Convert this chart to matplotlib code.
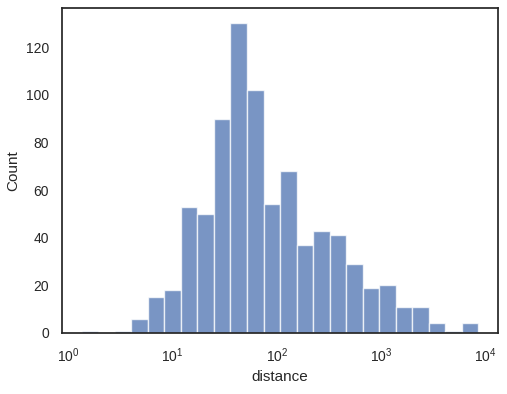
import numpy as np
import matplotlib.pyplot as plt
import seaborn as sns

# planets distance histogram, log-spaced bins
counts = [1, 0, 1, 6, 15, 18, 53, 50, 90, 130, 102, 54,
          68, 37, 43, 41, 29, 19, 20, 11, 11, 4, 1, 4]
dist_min = 1.35
dist_max = 8500.0

sns.set_theme(style="white")
plt.rcParams["font.family"] = ["Liberation Sans", "DejaVu Sans"]

edges = np.logspace(np.log10(dist_min), np.log10(dist_max), len(counts) + 1)

fig = plt.figure(figsize=(5.07, 3.94), dpi=100)
ax = fig.add_axes([62 / 507, 61 / 394, 436 / 507, 325 / 394])
ax.bar(edges[:-1], counts, width=np.diff(edges), align="edge",
       color="#4c72b0", alpha=0.75, edgecolor="white", linewidth=1)
ax.set_xscale("log")
ax.set_xlim(10 ** -0.06, 10 ** 4.119)
ax.set_ylim(0, 136.5)
ax.set_xlabel("distance", fontsize=11)
ax.set_ylabel("Count", fontsize=11)
ax.tick_params(labelsize=10)
fig.savefig("out.png", dpi=100)
